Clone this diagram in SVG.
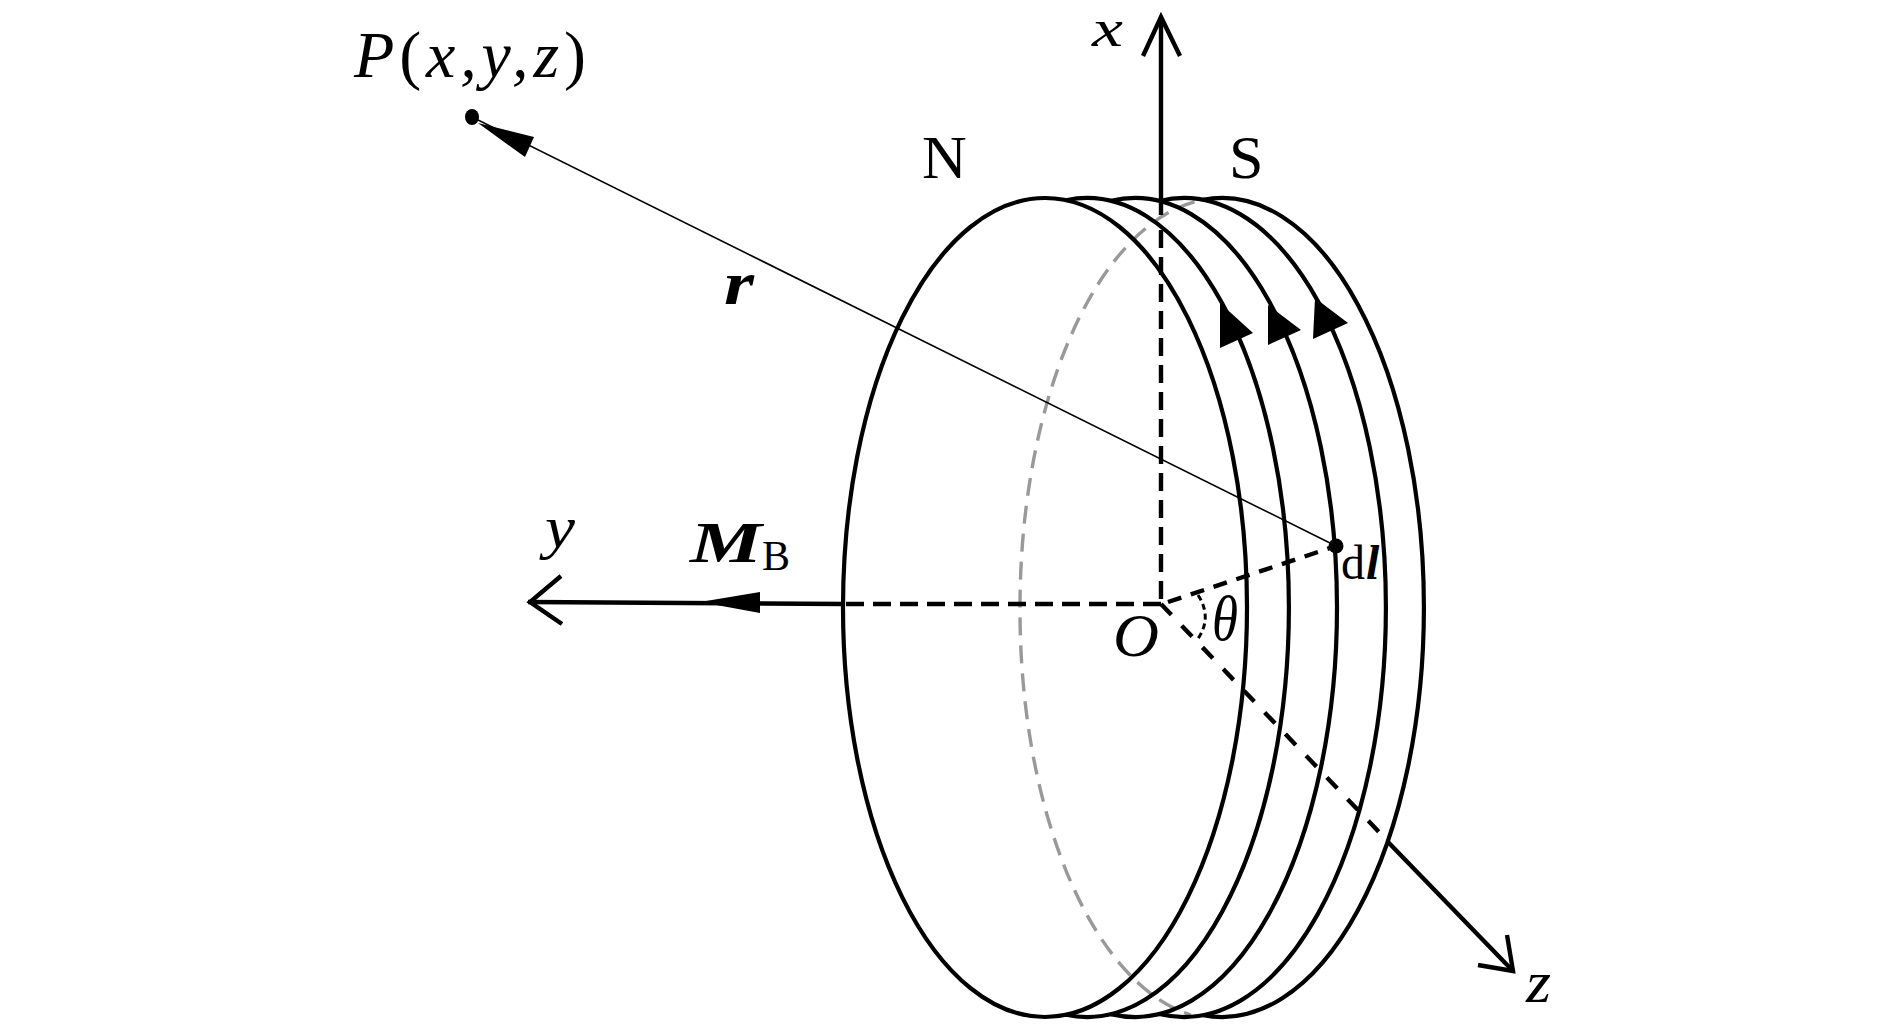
<svg xmlns="http://www.w3.org/2000/svg" width="1890" height="1030" viewBox="0 0 1890 1030">
<style>
text{font-family:"Liberation Serif","Times New Roman",serif;fill:#000}
.m{font-style:italic}
.b{font-style:italic;font-weight:bold}
.o{fill:none;stroke:#000;stroke-width:4.2}
.ax{fill:none;stroke:#000;stroke-width:4.4}
.d{fill:none;stroke:#000;stroke-width:4.4;stroke-dasharray:18 9}
.h{fill:#000;stroke:none}
</style>
<rect width="1890" height="1030" fill="#fff"/>
<g id="magnet">
<path d="M1222 198A202 409.5 0 0 0 1020 607.5A202 409.5 0 0 0 1191 1015" fill="none" stroke="#999" stroke-width="3.4" stroke-dasharray="18 10"/>
<path class="o" d="M1203 199.8A202 409.5 0 1 1 1203 1015.2"/>
<path class="o" d="M1159.5 201A202 409.5 0 1 1 1159.5 1014"/>
<path class="o" d="M1111 200.9A202 409.5 0 1 1 1111 1014.1"/>
<path class="o" d="M1066 200.2A202 409.5 0 1 1 1066 1014.8"/>
<ellipse class="o" cx="1045" cy="607.5" rx="202" ry="409.5"/>
</g>
<g id="connectors">
<path class="ax" d="M1161 17V215"/>
<path class="ax" d="M1143 56L1161 17L1180 56"/>
<path class="d" d="M1161 230V604"/>
<path class="ax" d="M528 602L843 604"/>
<path class="ax" d="M561 576L530 602L562 624"/>
<path class="d" d="M1161 604H843"/>
<path class="h" d="M700 602L760 592V613Z"/>
<path class="d" d="M1161 604L1379 832" style="stroke-dasharray:15 15"/>
<path class="ax" d="M1388 842L1513 971"/>
<path class="ax" d="M1507 935L1513 971L1478 965"/>
<path fill="none" stroke="#000" stroke-width="1.6" d="M1336 546L472 117"/>
<path class="h" d="M478 123L534 137L525 157Z"/>
<path class="d" d="M1168 602L1336 546" style="stroke-dasharray:14 10"/>
<path fill="none" stroke="#000" stroke-width="3" stroke-dasharray="6 4" d="M1198 595Q1213 618 1197 640"/>
<path class="h" d="M1220 303V348L1253 333Z"/>
<path class="h" d="M1268 305V345L1301 330Z"/>
<path class="h" d="M1315 298L1313 339L1348 323Z"/>
<ellipse class="h" cx="472" cy="117" rx="7" ry="8"/>
<circle class="h" cx="1336" cy="546" r="7.5"/>
</g>
<g id="labels">
<text class="m" x="354" y="77" font-size="66" textLength="232" lengthAdjust="spacing">P<tspan font-style="normal">(</tspan>x,y,z<tspan font-style="normal">)</tspan></text>
<text x="922" y="178" font-size="62">N</text>
<text x="1229" y="178" font-size="62">S</text>
<text class="m" x="1092" y="46" font-size="52" textLength="31" lengthAdjust="spacingAndGlyphs">x</text>
<text class="b" x="724" y="304" font-size="62" textLength="30" lengthAdjust="spacingAndGlyphs">r</text>
<text class="m" x="545" y="547" font-size="60" textLength="30" lengthAdjust="spacingAndGlyphs">y</text>
<text class="b" x="690" y="562" font-size="58" textLength="72" lengthAdjust="spacingAndGlyphs">M</text>
<text x="762" y="570" font-size="42">B</text>
<text class="m" x="1113" y="656" font-size="62" textLength="46" lengthAdjust="spacingAndGlyphs">O</text>
<text class="m" x="1212" y="640" font-size="64" textLength="26" lengthAdjust="spacingAndGlyphs">θ</text>
<text x="1341" y="579" font-size="48">d</text>
<text class="b" x="1366" y="579" font-size="48">l</text>
<text class="m" x="1526" y="1002" font-size="60" textLength="25" lengthAdjust="spacingAndGlyphs">z</text>
</g>
</svg>
